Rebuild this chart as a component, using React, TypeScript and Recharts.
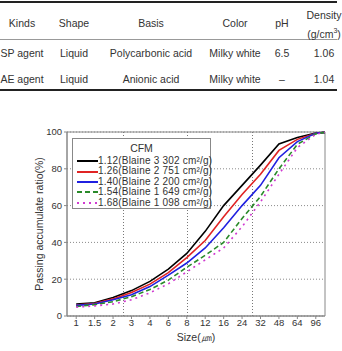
import {
  LineChart,
  Line,
  XAxis,
  YAxis,
  CartesianGrid,
  ReferenceLine,
  ReferenceArea,
  Legend,
  Label
} from 'recharts';

// table at the top
const tableHead = ['Kinds', 'Shape', 'Basis', 'Color', 'pH', 'Density'];
const spRow = ['SP agent', 'Liquid', 'Polycarbonic acid', 'Milky white', '6.5', '1.06'];
const aeRow = ['AE agent', 'Liquid', 'Anionic acid', 'Milky white', '–', '1.04'];
const colX = [22, 74, 151, 235, 282, 324];

// particle size categories (evenly spaced on the axis)
const sizeLabels = ['1', '1.5', '2', '3', '4', '6', '8', '12', '16', '24', '32', '48', '64', '96'];
const sizePos = [0, 1, 2, 3, 4, 5, 6, 7, 8, 9, 10, 11, 12, 13, 13.5];

const cfm112 = [6.5, 7.2, 10, 13.8, 18.8, 25.5, 34, 46, 60, 71, 82, 93.5, 97, 99.5, 99.8];
const cfm126 = [6, 6.8, 9.3, 12.8, 17.3, 23.6, 31.7, 41, 54, 66, 77, 90, 96, 99.3, 99.8];
const cfm140 = [5.8, 6.5, 8.8, 11.5, 16, 22.2, 28.8, 37, 48, 60, 71, 86, 94.8, 99.3, 99.8];
const cfm154 = [5.2, 6.2, 7.8, 10.5, 14.4, 19.5, 26.5, 33, 40, 53, 65, 80, 93.3, 99, 99.8];
const cfm168 = [4.8, 5.5, 6.5, 8.8, 12.6, 17.5, 24, 30.5, 37, 48.5, 62, 77, 91.5, 98.8, 99.8];

const yTicks = [0, 20, 40, 60, 80, 100];
const gridX = [2.54, 6.05, 9.58];

const series = [
  { key: 'a', name: '1.12(Blaine 3 302 cm²/g)', color: '#000000', dash: undefined, values: cfm112 },
  { key: 'b', name: '1.26(Blaine 2 751 cm²/g)', color: '#e02424', dash: undefined, values: cfm126 },
  { key: 'c', name: '1.40(Blaine 2 200 cm²/g)', color: '#2020e0', dash: undefined, values: cfm140 },
  { key: 'd', name: '1.54(Blaine 1 649 cm²/g)', color: '#2a8a2a', dash: '5 3', values: cfm154 },
  { key: 'e', name: '1.68(Blaine 1 098 cm²/g)', color: '#d03ad0', dash: '2 4', values: cfm168 }
];

const data = sizePos.map((x, i) => {
  const row: any = { x };
  series.forEach(s => { row[s.key] = s.values[i]; });
  return row;
});

const FONT = '"Liberation Sans", Arial, sans-serif';
const TEXT = '#333';
const GRID = '#8a8a8a';

const CfmLegend = () => (
  <div style={{
    width: 139, height: 71, border: '1px solid #888', background: '#fff',
    fontFamily: FONT, fontSize: 10, color: TEXT, boxSizing: 'border-box'
  }}>
    <div style={{ textAlign: 'center', height: 17, lineHeight: '18px', fontSize: 10.5 }}>CFM</div>
    {series.map(s => (
      <div key={s.key} style={{ display: 'flex', alignItems: 'center', height: 10.4, lineHeight: '10.4px', whiteSpace: 'nowrap' }}>
        <svg width={25} height={6} style={{ flex: 'none' }}>
          <line x1={4} y1={3} x2={25} y2={3} stroke={s.color} strokeWidth={2} strokeDasharray={s.dash} />
        </svg>
        <span style={{ lineHeight: '10.4px', letterSpacing: 0.2 }}>{s.name}</span>
      </div>
    ))}
  </div>
);

const YTitle = ({ viewBox }: any) => {
  const cx = 39;
  const cy = viewBox.y + viewBox.height / 2;
  return (
    <text x={cx} y={cy} transform={`rotate(-90 ${cx} ${cy})`} textAnchor="middle" dominantBaseline="central"
      fontSize={10.5} fill={TEXT} fontFamily={FONT}>
      Passing accumulate ratio(%)
    </text>
  );
};

const XTitle = ({ viewBox }: any) => (
  <text x={viewBox.x + viewBox.width / 2} y={viewBox.y + 21} textAnchor="middle" dominantBaseline="central"
    fontSize={10.5} fill={TEXT} fontFamily={FONT}>
    Size(㎛)
  </text>
);

export default function App() {
  return (
    <div style={{ position: 'absolute', left: 0, top: 0, width: 342, height: 351, background: '#fff', overflow: 'hidden' }}>
      {/* table */}
      <div style={{ position: 'absolute', left: 0, top: 1, width: 337, height: 2, background: '#222' }} />
      <div style={{ position: 'absolute', left: 0, top: 39, width: 337, height: 1, background: '#999' }} />
      <div style={{ position: 'absolute', left: 0, top: 89, width: 337, height: 2, background: '#222' }} />
      {tableHead.map((h, i) => (
        <div key={h} style={{
          position: 'absolute', left: colX[i], top: i === 5 ? 8 : 15.5, transform: 'translateX(-50%)',
          fontFamily: FONT, fontSize: 10.5, color: TEXT, textAlign: 'center', lineHeight: '15px', whiteSpace: 'nowrap'
        }}>
          {h}
          {i === 5 && <><br />(g/cm<sup style={{ fontSize: 7 }}>3</sup>)</>}
        </div>
      ))}
      {[spRow, aeRow].map((row, r) => row.map((c, i) => (
        <div key={r + '-' + i} style={{
          position: 'absolute', left: colX[i], top: r === 0 ? 46 : 72, transform: 'translateX(-50%)',
          fontFamily: FONT, fontSize: 10.5, color: TEXT, lineHeight: '15px', whiteSpace: 'nowrap'
        }}>{c}</div>
      )))}

      {/* chart */}
      <div style={{ position: 'absolute', left: 0, top: 100 }}>
        <LineChart width={342} height={251} data={data} margin={{ top: 32, right: 17, bottom: 0, left: 0 }}>
          <CartesianGrid vertical={false} stroke={GRID} strokeDasharray="1 2" />
          {gridX.map(g => (
            <ReferenceLine key={g} x={g} stroke="#777" strokeWidth={1} strokeDasharray="1 2"
              shapeRendering="crispEdges" ifOverflow="extendDomain" />
          ))}
          <ReferenceArea x1={-0.5} x2={13.5} y1={0} y2={100} fill="none" stroke="#888" strokeWidth={1} ifOverflow="visible" />
          <XAxis
            type="number"
            dataKey="x"
            domain={[-0.5, 13.5]}
            ticks={sizeLabels.map((_, i) => i)}
            tickFormatter={(v: number) => sizeLabels[v] ?? ''}
            interval={0}
            height={35}
            tickSize={3}
            tickMargin={0}
            stroke="#888"
            tick={{ fontSize: 9.5, fill: TEXT, fontFamily: FONT }}
            allowDataOverflow
          >
            <Label content={<XTitle />} />
          </XAxis>
          <YAxis
            domain={[0, 100]}
            ticks={yTicks}
            width={67}
            tickSize={3}
            tickMargin={2}
            stroke="#888"
            tick={{ fontSize: 9.5, fill: TEXT, fontFamily: FONT }}
          >
            <Label content={<YTitle />} />
          </YAxis>
          {series.map(s => (
            <Line
              key={s.key}
              dataKey={s.key}
              name={s.name}
              stroke={s.color}
              strokeWidth={1.6}
              strokeDasharray={s.dash}
              dot={false}
              type="linear"
              isAnimationActive={false}
            />
          ))}
          <Legend
            layout="vertical"
            align="center"
            verticalAlign="middle"
            content={<CfmLegend />}
            wrapperStyle={{ left: 72, top: 38, width: 139, height: 71 }}
          />
        </LineChart>
      </div>
    </div>
  );
}
